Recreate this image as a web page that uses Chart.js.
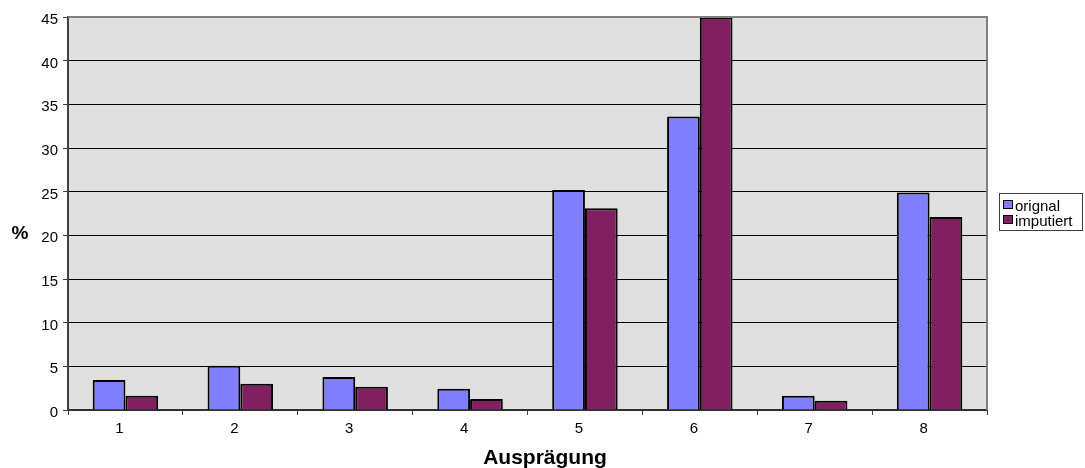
<!DOCTYPE html>
<html>
<head>
<meta charset="utf-8">
<style>
  html, body { margin: 0; padding: 0; background: #ffffff; }
  #wrap { width: 1085px; height: 468px; position: relative; }
</style>
<script src="https://cdn.jsdelivr.net/npm/chart.js@4/dist/chart.umd.min.js"></script>
</head>
<body>
<div id="wrap"><canvas id="c" width="1085" height="468"></canvas></div>
<script>
const categories = ['1', '2', '3', '4', '5', '6', '7', '8'];
const orignal   = [3.44, 5.08, 3.78, 2.44, 25.2, 33.6, 1.64, 24.9];
const imputiert = [1.64, 3.0, 2.67, 1.26, 23.1, 45.0, 1.07, 22.1];
const yTicks = [0, 5, 10, 15, 20, 25, 30, 35, 40, 45];
const seriesNames = ['orignal', 'imputiert'];
const seriesColors = ['#8080ff', '#802060'];

const FONT = '"Liberation Sans", Arial, sans-serif';

// plot background and frame, axis titles, boxed legend
const decor = {
  id: 'decor',
  beforeDraw(chart) {
    const { ctx, chartArea: a } = chart;
    ctx.save();
    ctx.fillStyle = '#e0e0e0';
    ctx.fillRect(a.left, a.top, a.right - a.left, a.bottom - a.top);
    ctx.restore();
  },
  afterDraw(chart) {
    const { ctx, chartArea: a } = chart;
    ctx.save();
    // top and right frame
    ctx.strokeStyle = '#808080';
    ctx.lineWidth = 2;
    ctx.beginPath();
    ctx.moveTo(a.left, a.top);
    ctx.lineTo(a.right, a.top);
    ctx.lineTo(a.right, a.bottom);
    ctx.stroke();

    // axis titles
    ctx.fillStyle = '#000';
    ctx.font = 'bold 21px ' + FONT;
    ctx.textAlign = 'center';
    ctx.textBaseline = 'alphabetic';
    ctx.fillText('Ausprägung', 545, 464);
    ctx.font = 'bold 19px ' + FONT;
    ctx.fillText('%', 20, 239);

    // legend
    const lx = 999, ly = 193, lw = 83, lh = 37;
    ctx.fillStyle = '#ffffff';
    ctx.fillRect(lx, ly, lw, lh);
    ctx.strokeStyle = '#404040';
    ctx.lineWidth = 1;
    ctx.strokeRect(lx + 0.5, ly + 0.5, lw, lh);
    ctx.font = '15px ' + FONT;
    ctx.textAlign = 'left';
    seriesNames.forEach((name, i) => {
      const y = ly + 4 + i * 15;
      ctx.fillStyle = seriesColors[i];
      ctx.fillRect(lx + 4, y + 3, 10, 9);
      ctx.strokeStyle = '#000';
      ctx.strokeRect(lx + 4.5, y + 3.5, 9, 8);
      ctx.fillStyle = '#000';
      ctx.fillText(name, lx + 16, y + 14);
    });
    ctx.restore();
  }
};

new Chart(document.getElementById('c'), {
  type: 'bar',
  data: {
    labels: categories,
    datasets: [
      { label: seriesNames[0], data: orignal, backgroundColor: seriesColors[0],
        borderColor: '#000', borderWidth: 2 },
      { label: seriesNames[1], data: imputiert, backgroundColor: seriesColors[1],
        borderColor: '#000', borderWidth: 2 }
    ]
  },
  options: {
    responsive: false,
    animation: false,
    devicePixelRatio: 1,
    layout: { padding: { top: 17, right: 98, left: 0, bottom: 0 } },
    datasets: { bar: { categoryPercentage: 0.57, barPercentage: 1.0 } },
    plugins: { legend: { display: false }, tooltip: { enabled: false } },
    scales: {
      x: {
        offset: true,
        afterFit(s) { s.height = 58; },
        grid: { offset: true, drawOnChartArea: false, drawTicks: true, tickLength: 5,
                color: '#404040', lineWidth: 1 },
        border: { display: true, color: '#303030', width: 2 },
        ticks: { color: '#000', font: { family: FONT, size: 15 }, padding: 5, labelOffset: -6,
                 maxRotation: 0 }
      },
      y: {
        min: 0, max: 45,
        afterFit(s) { s.width = 68; },
        afterBuildTicks(s) { s.ticks = yTicks.map(v => ({ value: v })); },
        grid: { color: '#000', lineWidth: 1, tickLength: 5, tickColor: '#404040' },
        border: { display: true, color: '#404040', width: 2 },
        ticks: { color: '#000', font: { family: FONT, size: 15 }, padding: 5, labelOffset: 3 }
      }
    }
  },
  plugins: [decor]
});
</script>
</body>
</html>
